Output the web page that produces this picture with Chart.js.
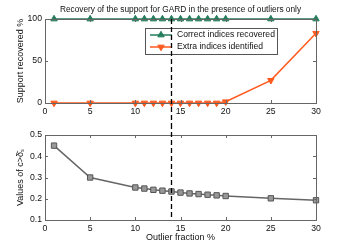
<!DOCTYPE html>
<html>
<head>
<meta charset="utf-8">
<script src="https://cdn.jsdelivr.net/npm/chart.js@4"></script>
<style>
  body { margin: 0; background: #fff; }
  canvas { display: block; }
</style>
</head>
<body>
<canvas id="chartTop" width="349" height="124"></canvas>
<canvas id="chartBot" width="349" height="124"></canvas>
<script>
// ── data ──
const outlierPct   = [1, 5, 10, 11, 12, 13, 14, 15, 16, 17, 18, 19, 20, 25, 30];
const correctIdx   = [100, 100, 100, 100, 100, 100, 100, 100, 100, 100, 100, 100, 100, 100, 100];
const extraIdx     = [0, 0, 0, 0, 0, 0, 0, 0, 0, 0, 0, 0, 1.5, 27, 83];
const deltaBound   = [0.45, 0.30, 0.253, 0.248, 0.242, 0.238, 0.234, 0.229, 0.225, 0.222, 0.219, 0.216, 0.213, 0.202, 0.193];
const xTicks       = [0, 5, 10, 15, 20, 25, 30];
const topYTicks    = [0, 50, 100];
const botYTicks    = [0.1, 0.2, 0.3, 0.4, 0.5];
const MARK_X       = 14;   // dashed threshold line

const FONT = 'Liberation Sans, Arial, sans-serif';
const pts = ys => outlierPct.map((x, i) => ({ x, y: ys[i] }));

// frame + inward ticks, MATLAB-ish
const framePlugin = {
  id: 'frame',
  afterDatasetsDraw(chart) {
    const { ctx, chartArea: a, scales } = chart;
    ctx.save();
    ctx.strokeStyle = '#666';
    ctx.lineWidth = 1;
    ctx.strokeRect(Math.round(a.left) + 0.5, Math.round(a.top) + 0.5, Math.round(a.right - a.left), Math.round(a.bottom - a.top));
    ctx.beginPath();
    scales.x.ticks.forEach(t => {
      const px = Math.round(scales.x.getPixelForValue(t.value)) + 0.5;
      ctx.moveTo(px, a.bottom); ctx.lineTo(px, a.bottom - 3);
      ctx.moveTo(px, a.top);    ctx.lineTo(px, a.top + 3);
    });
    scales.y.ticks.forEach(t => {
      const py = Math.round(scales.y.getPixelForValue(t.value)) + 0.5;
      ctx.moveTo(a.left, py);  ctx.lineTo(a.left + 3, py);
      ctx.moveTo(a.right, py); ctx.lineTo(a.right - 3, py);
    });
    ctx.stroke();
    ctx.restore();
  }
};

// boxed legend drawn inside the plot
function boxLegend(box) {
  return {
    id: 'boxLegend',
    afterDatasetsDraw(chart) {
      const { ctx } = chart;
      ctx.save();
      ctx.fillStyle = '#fff';
      ctx.fillRect(box.x, box.y, box.w, box.h);
      ctx.strokeStyle = '#555';
      ctx.lineWidth = 1;
      ctx.strokeRect(box.x + 0.5, box.y + 0.5, box.w, box.h);
      chart.data.datasets.forEach((ds, i) => {
        const cy = box.y + box.row0 + i * box.rowH;
        ctx.strokeStyle = ds.borderColor;
        ctx.lineWidth = 1.5;
        ctx.beginPath();
        ctx.moveTo(box.x + 5, cy); ctx.lineTo(box.x + 5 + box.lineW, cy);
        ctx.stroke();
        ctx.fillStyle = ds.pointBackgroundColor || ds.borderColor;
        ctx.strokeStyle = ds.pointBorderColor || ds.borderColor;
        ctx.lineWidth = 1;
        Chart.helpers.drawPoint(ctx, {
          pointStyle: ds.pointStyle, rotation: ds.pointRotation || 0,
          radius: ds.pointRadius, borderWidth: 1
        }, box.x + 5 + box.lineW / 2, cy);
        ctx.fillStyle = '#111';
        ctx.font = '8.6px ' + FONT;
        ctx.textBaseline = 'middle';
        const tx = box.x + 10 + box.lineW;
        ctx.fillText(ds.label, tx, cy);
        if (ds.sub) {
          const w = ctx.measureText(ds.label).width;
          ctx.font = '6px ' + FONT;
          ctx.fillText(ds.sub, tx + w + 0.5, cy + 4);
        }
      });
      ctx.restore();
    }
  };
}

// dashed vertical line at MARK_X, runs across both panels
function dashLine(fromTop) {
  return {
    id: 'dashLine',
    afterDraw(chart) {
      const { ctx, chartArea: a, scales } = chart;
      const px = Math.round(scales.x.getPixelForValue(MARK_X)) + 0.5;
      ctx.save();
      ctx.strokeStyle = '#000';
      ctx.lineWidth = 1.3;
      ctx.setLineDash([5, 3]);
      ctx.beginPath();
      if (fromTop) { ctx.moveTo(px, a.top); ctx.lineTo(px, chart.height); }
      else { ctx.moveTo(px, 0); ctx.lineTo(px, a.bottom); }
      ctx.stroke();
      ctx.restore();
    }
  };
}

const titlePlugin = {
  id: 'topTitle',
  afterDraw(chart) {
    const { ctx, chartArea: a } = chart;
    ctx.save();
    ctx.fillStyle = '#111';
    ctx.font = '8.3px ' + FONT;
    ctx.textAlign = 'center';
    ctx.textBaseline = 'middle';
    ctx.fillText('Recovery of the support for GARD in the presence of outliers only', (a.left + a.right) / 2, 9.5);
    ctx.restore();
  }
};

function xScale(height, titleText) {
  return {
    type: 'linear', min: 0, max: 30,
    afterBuildTicks: s => { s.ticks = xTicks.map(v => ({ value: v })); },
    afterFit: s => { s.height = height; },
    grid: { display: false, drawTicks: false, tickLength: 0 }, border: { display: false },
    ticks: { color: '#111', font: { size: 8.7, family: FONT }, padding: 3, maxRotation: 0 },
    title: titleText ? { display: true, text: titleText, color: '#111', font: { size: 9, family: FONT }, padding: { top: 0, bottom: 5 } } : { display: false }
  };
}

function yScale(min, max, ticks, titleText, fmt) {
  return {
    type: 'linear', min, max,
    afterBuildTicks: s => { s.ticks = ticks.map(v => ({ value: v })); },
    afterFit: s => { s.width = 45; },
    grid: { display: false, drawTicks: false, tickLength: 0 }, border: { display: false },
    ticks: { color: '#111', font: { size: 8.7, family: FONT }, padding: 3, callback: fmt },
    title: { display: true, text: titleText, color: '#111', font: { size: 9, family: FONT }, padding: { top: 15, bottom: 0 } }
  };
}

new Chart(document.getElementById('chartTop'), {
  type: 'line',
  data: {
    datasets: [
      { label: 'Correct indices recovered', data: pts(correctIdx), borderColor: '#237d5c', backgroundColor: '#237d5c',
        pointStyle: 'triangle', pointRadius: 3.7, borderWidth: 1.5, pointBorderWidth: 1 },
      { label: 'Extra indices identified', data: pts(extraIdx), borderColor: '#ff5a1e', backgroundColor: '#ff5a1e',
        pointStyle: 'triangle', pointRotation: 180, pointRadius: 3.7, borderWidth: 1.5, pointBorderWidth: 1 }
    ]
  },
  options: {
    responsive: false, animation: false, clip: false,
    layout: { padding: { top: 19, right: 33, left: 0, bottom: 0 } },
    plugins: { legend: { display: false }, tooltip: { enabled: false } },
    scales: {
      x: xScale(21, null),
      y: yScale(0, 100, topYTicks, 'Support recovered %', v => v)
    }
  },
  plugins: [framePlugin, boxLegend({ x: 145, y: 28, w: 132, h: 26, row0: 7, rowH: 12, lineW: 22 }), dashLine(true), titlePlugin]
});

new Chart(document.getElementById('chartBot'), {
  type: 'line',
  data: {
    datasets: [
      { label: 'Theoretical bound for δ', sub: 's', data: pts(deltaBound), borderColor: '#666', backgroundColor: '#999',
        pointBackgroundColor: '#999', pointBorderColor: '#555',
        pointStyle: 'rect', pointRadius: 3.8, borderWidth: 1.5, pointBorderWidth: 1 }
    ]
  },
  options: {
    responsive: false, animation: false, clip: false,
    layout: { padding: { top: 11, right: 33, left: 0, bottom: 0 } },
    plugins: { legend: { display: false }, tooltip: { enabled: false } },
    scales: {
      x: xScale(28, 'Outlier fraction %'),
      y: yScale(0.1, 0.5, botYTicks, 'Values of c>δ̄ₛ', v => v.toFixed(1))
    }
  },
  plugins: [framePlugin, boxLegend({ x: 189, y: 139, w: 123, h: 19, row0: 9, rowH: 12, lineW: 25 }), dashLine(false)]
});
</script>
</body>
</html>
